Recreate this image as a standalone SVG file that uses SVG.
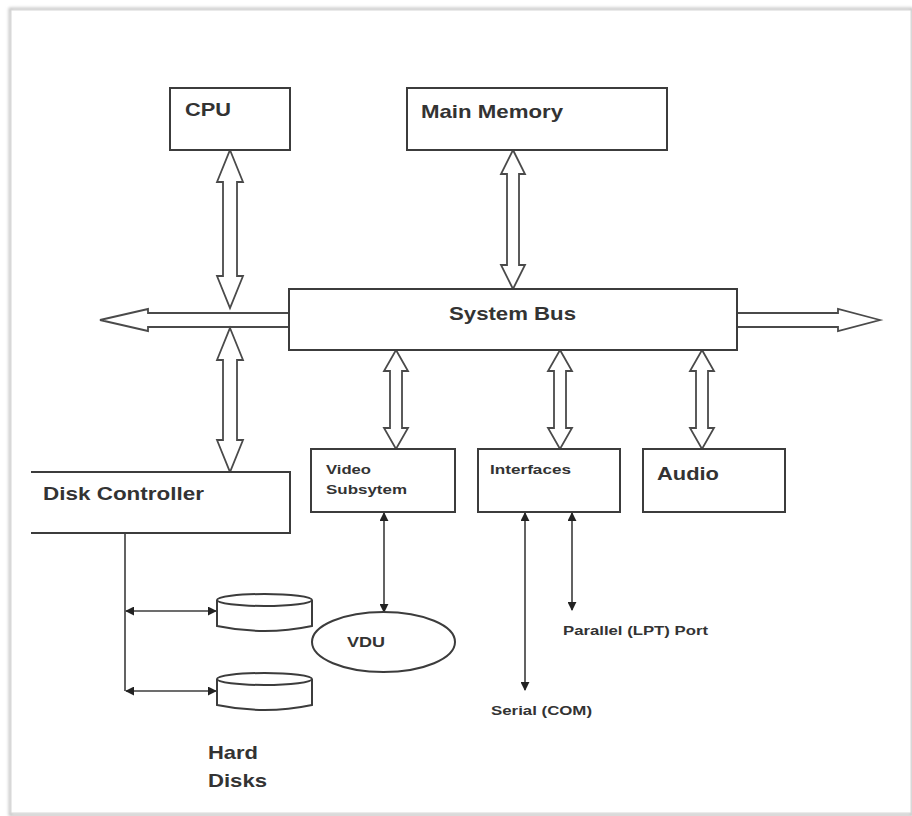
<svg xmlns="http://www.w3.org/2000/svg" width="912" height="816" viewBox="0 0 912 816">
  <defs>
    <style>
      .box { fill: #fff; stroke: #3c3c3c; stroke-width: 2; }
      .bus { fill: #fff; stroke: #4a4a4a; stroke-width: 1.8; stroke-linejoin: miter; }
      .wire { fill: none; stroke: #3c3c3c; stroke-width: 1.6; }
      .lbl { font-family: "Liberation Sans", Arial, sans-serif; font-weight: bold; fill: #333; }
      .big { font-size: 19px; }
      .small { font-size: 12.5px; }
    </style>
    <marker id="tip" viewBox="0 0 10 10" refX="9" refY="5" markerWidth="9" markerHeight="9" markerUnits="userSpaceOnUse" orient="auto-start-reverse">
      <path d="M0,0 L10,5 L0,10 Z" fill="#222"/>
    </marker>
    <filter id="soft" x="-5%" y="-5%" width="110%" height="110%">
      <feGaussianBlur stdDeviation="1.5"/>
    </filter>
  </defs>

  <!-- page frame -->
  <rect x="0" y="0" width="912" height="816" fill="#fff"/>
  <rect x="10" y="9" width="902" height="806" fill="none" stroke="#bdbdbd" stroke-width="2.5" filter="url(#soft)"/>
  <rect x="11" y="10" width="900" height="803" fill="#fff" stroke="#d6d6d6" stroke-width="1"/>

  <!-- connectors -->
  <g id="connectors">
    <!-- bus extension arrows -->
    <polygon class="bus" points="100,320 148,309 148,313 289,313 289,327 148,327 148,331"/>
    <polygon class="bus" points="880,320 838,309 838,313 737,313 737,327 838,327 838,331"/>
    <!-- CPU to bus -->
    <polygon class="bus" points="230,150 243,182 237,182 237,276 243,276 230,308 217,276 223,276 223,182 217,182"/>
    <!-- bus to disk controller -->
    <polygon class="bus" points="230,328 243,360 237,360 237,440 243,440 230,472 217,440 223,440 223,360 217,360"/>
    <!-- main memory to bus -->
    <polygon class="bus" points="513,150 525,174 519,174 519,265 525,265 513,289 501,265 507,265 507,174 501,174"/>
    <!-- bus to video / interfaces / audio -->
    <polygon class="bus" points="396,350 408,371 402,371 402,428 408,428 396,449 384,428 390,428 390,371 384,371"/>
    <polygon class="bus" points="560,350 572,371 566,371 566,428 572,428 560,449 548,428 554,428 554,371 548,371"/>
    <polygon class="bus" points="702,350 714,371 708,371 708,428 714,428 702,449 690,428 696,428 696,371 690,371"/>

    <!-- disk controller to hard disks -->
    <path class="wire" d="M125,533 V691"/>
    <line class="wire" x1="126" y1="611" x2="216" y2="611" marker-start="url(#tip)" marker-end="url(#tip)"/>
    <line class="wire" x1="126" y1="691" x2="216" y2="691" marker-start="url(#tip)" marker-end="url(#tip)"/>

    <!-- video subsystem to VDU -->
    <line class="wire" x1="384" y1="513" x2="384" y2="612" marker-start="url(#tip)" marker-end="url(#tip)"/>

    <!-- interface ports -->
    <line class="wire" x1="525" y1="513" x2="525" y2="690" marker-start="url(#tip)" marker-end="url(#tip)"/>
    <line class="wire" x1="572" y1="513" x2="572" y2="610" marker-start="url(#tip)" marker-end="url(#tip)"/>
  </g>

  <!-- nodes -->
  <g id="cpu">
    <rect class="box" x="170" y="88" width="120" height="62"/>
    <text class="lbl big" x="185" y="116" textLength="46" lengthAdjust="spacingAndGlyphs">CPU</text>
  </g>

  <g id="main-memory">
    <rect class="box" x="407" y="88" width="260" height="62"/>
    <text class="lbl big" x="421" y="118" textLength="142" lengthAdjust="spacingAndGlyphs">Main Memory</text>
  </g>

  <g id="system-bus">
    <rect class="box" x="289" y="289" width="448" height="61"/>
    <text class="lbl big" x="449" y="320" textLength="127" lengthAdjust="spacingAndGlyphs">System Bus</text>
  </g>

  <g id="disk-controller">
    <path class="box" d="M31,472 H290 V533 H31"/>
    <text class="lbl big" x="43" y="500" textLength="161" lengthAdjust="spacingAndGlyphs">Disk Controller</text>
  </g>

  <g id="video-subsystem">
    <rect class="box" x="311" y="449" width="144" height="63"/>
    <text class="lbl small" x="326" y="474" textLength="45" lengthAdjust="spacingAndGlyphs">Video</text>
    <text class="lbl small" x="326" y="494" textLength="81" lengthAdjust="spacingAndGlyphs">Subsytem</text>
  </g>

  <g id="interfaces">
    <rect class="box" x="478" y="449" width="142" height="63"/>
    <text class="lbl small" x="490" y="474" textLength="81" lengthAdjust="spacingAndGlyphs">Interfaces</text>
  </g>

  <g id="audio">
    <rect class="box" x="643" y="449" width="142" height="63"/>
    <text class="lbl big" x="657" y="480" textLength="62" lengthAdjust="spacingAndGlyphs">Audio</text>
  </g>

  <g id="vdu">
    <ellipse class="box" cx="383.5" cy="642" rx="71.5" ry="30"/>
    <text class="lbl" font-size="15" x="347" y="647" textLength="38" lengthAdjust="spacingAndGlyphs">VDU</text>
  </g>

  <g id="hard-disk-1">
    <path class="box" d="M217,600 V626 Q264.5,636 312,626 V600"/>
    <ellipse class="box" cx="264.5" cy="600" rx="47.5" ry="6"/>
  </g>

  <g id="hard-disk-2">
    <path class="box" d="M217,679 V705 Q264.5,715 312,705 V679"/>
    <ellipse class="box" cx="264.5" cy="679" rx="47.5" ry="6"/>
  </g>

  <g id="hard-disks-label">
    <text class="lbl big" x="208" y="759" textLength="50" lengthAdjust="spacingAndGlyphs">Hard</text>
    <text class="lbl big" x="208" y="787" textLength="59" lengthAdjust="spacingAndGlyphs">Disks</text>
  </g>

  <g id="parallel-port">
    <text class="lbl small" x="563" y="635" textLength="145" lengthAdjust="spacingAndGlyphs">Parallel (LPT) Port</text>
  </g>

  <g id="serial-port">
    <text class="lbl small" x="491" y="715" textLength="101" lengthAdjust="spacingAndGlyphs">Serial (COM)</text>
  </g>
</svg>
